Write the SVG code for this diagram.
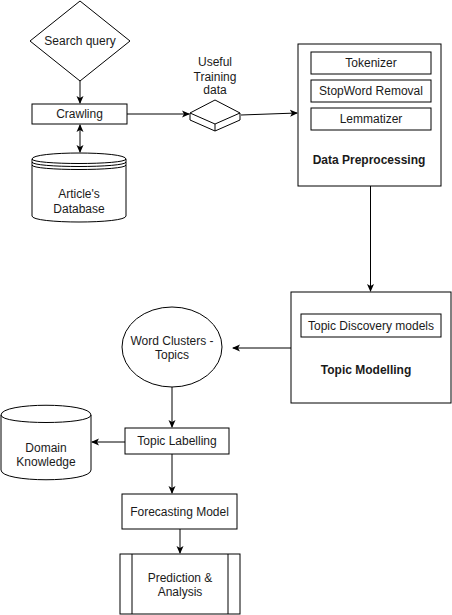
<svg xmlns="http://www.w3.org/2000/svg" width="452" height="615" viewBox="0 0 452 615">
<style>
.s{fill:#fff;stroke:#000;stroke-width:1}
.n{fill:none;stroke:#000;stroke-width:1}
.t{font-family:"Liberation Sans",Arial,sans-serif;font-size:12px;fill:#1a1a1a;text-anchor:middle}
.b{font-weight:bold}
.c{fill:none;stroke:#000;stroke-width:1}
</style>
<defs>
<marker id="ah" viewBox="0 0 8 8" refX="7" refY="4" markerWidth="8" markerHeight="8" markerUnits="userSpaceOnUse" orient="auto-start-reverse">
<path d="M0,0.5 L8,4 L0,7.5 L2,4 Z" fill="#000"/>
</marker>
</defs>
<rect width="452" height="615" fill="#fff"/>
<g id="connectors">
<path class="c" d="M80,81 L80,103" marker-end="url(#ah)"/>
<path class="c" d="M80,125 L80,152" marker-start="url(#ah)" marker-end="url(#ah)"/>
<path class="c" d="M127,114 L189,114" marker-end="url(#ah)"/>
<path class="c" d="M241,115 L297,113" marker-end="url(#ah)"/>
<path class="c" d="M370.5,186 L370.5,291" marker-end="url(#ah)"/>
<path class="c" d="M291,348 L233,348" marker-end="url(#ah)"/>
<path class="c" d="M172,387 L172,427" marker-end="url(#ah)"/>
<path class="c" d="M125,442 L92,442" marker-end="url(#ah)"/>
<path class="c" d="M172,454 L172,493" marker-end="url(#ah)"/>
<path class="c" d="M180,529 L180,553" stroke-width="1.5" marker-end="url(#ah)"/>
</g>
<g id="search-query">
<polygon class="s" points="80,1 130,41 80,81 30,41"/>
<text class="t" x="80" y="45">Search query</text>
</g>
<g id="crawling">
<rect class="s" x="32" y="104" width="95" height="20"/>
<text class="t" x="79.5" y="118">Crawling</text>
</g>
<g id="articles-database">
<path class="s" d="M32,159 C32,151 126,151 126,159 L126,216 C126,224 32,224 32,216 Z"/>
<path class="n" d="M32,159 C32,165 126,165 126,159"/>
<path class="n" d="M32,162 C32,168 126,168 126,162"/>
<path class="n" d="M32,165 C32,171 126,171 126,165"/>
<text class="t" x="79" y="198">Article's</text>
<text class="t" x="79" y="213">Database</text>
</g>
<g id="training-data">
<path class="s" d="M190,113 L215,100 L240,113 L240,120 L215,131 L190,120 Z"/>
<path class="n" d="M190,113 L215,124 L240,113 M215,124 L215,131"/>
<text class="t" x="215" y="66">Useful</text>
<text class="t" x="215" y="81">Training</text>
<text class="t" x="215" y="94">data</text>
</g>
<g id="data-preprocessing">
<rect class="s" x="298" y="44" width="143" height="142"/>
<rect class="s" x="311" y="52" width="120" height="22"/>
<text class="t" x="371" y="67">Tokenizer</text>
<rect class="s" x="311" y="80" width="120" height="22"/>
<text class="t" x="371" y="95">StopWord Removal</text>
<rect class="s" x="311" y="108" width="120" height="22"/>
<text class="t" x="371" y="123">Lemmatizer</text>
<text class="t b" x="369" y="164">Data Preprocessing</text>
</g>
<g id="topic-modelling">
<rect class="s" x="291" y="292" width="160" height="111"/>
<rect class="s" x="301" y="314" width="140" height="23"/>
<text class="t" x="371" y="330">Topic Discovery models</text>
<text class="t b" x="366" y="374">Topic Modelling</text>
</g>
<g id="word-clusters">
<ellipse class="s" cx="172" cy="347" rx="50" ry="40"/>
<text class="t" x="172" y="345">Word Clusters -</text>
<text class="t" x="172" y="359">Topics</text>
</g>
<g id="topic-labelling">
<rect class="s" x="125" y="428" width="104" height="26"/>
<text class="t" x="177" y="445">Topic Labelling</text>
</g>
<g id="domain-knowledge">
<path class="s" d="M1,415 C1,402 91,402 91,415 L91,470 C91,483 1,483 1,470 Z"/>
<path class="n" d="M1,415 C1,425 91,425 91,415"/>
<text class="t" x="46" y="452">Domain</text>
<text class="t" x="46" y="466">Knowledge</text>
</g>
<g id="forecasting-model">
<rect class="s" x="122" y="494" width="115" height="35"/>
<text class="t" x="179.5" y="516">Forecasting Model</text>
</g>
<g id="prediction-analysis">
<rect class="s" x="120" y="554" width="120" height="60"/>
<path class="n" d="M132,554 L132,614 M228,554 L228,614"/>
<text class="t" x="180" y="582">Prediction &amp;</text>
<text class="t" x="180" y="596">Analysis</text>
</g>
</svg>
